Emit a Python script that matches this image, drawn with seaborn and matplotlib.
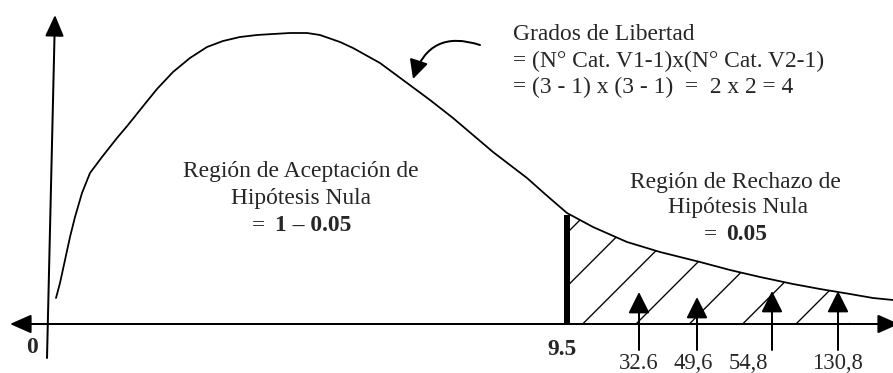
"""
Chi-square diagram: acceptance / rejection regions of the null hypothesis (df = 4)
"""
import numpy as np
import pandas as pd
import matplotlib
matplotlib.use("Agg")
import matplotlib.pyplot as plt
import seaborn as sns

# curve (diagram units, y grows downward)
curve_x = [56, 60, 65, 70, 75, 82, 90, 102, 117, 128, 140, 157, 173, 190, 207, 223,
           240, 257, 273, 290, 307, 320, 340, 353, 380, 403, 430, 453, 473, 493, 510,
           527, 545, 560, 567, 593, 627, 660, 700, 730, 760, 793, 820, 850, 873, 893]
curve_y = [298, 283, 260, 237, 217, 193, 173, 157, 138, 125, 110, 89, 72, 58, 47, 41,
           37, 35, 34, 33, 33, 35, 42, 48, 63, 80, 100, 118, 135, 152, 165,
           178, 194, 207, 213, 227, 242, 252, 262, 270, 277, 284, 289, 294, 298, 300]

crit_label = "9.5"
crit_x = 567
crit_top = 215
hatch_end = 850
base_y = 324

obs_labels = ["32.6", "49,6", "54,8", "130,8"]
obs_arrow_x = [639, 697, 772, 838]
obs_arrow_tip = [292, 297, 291, 291]
obs_label_x = [639, 693, 748, 837]

gl_lines = ["Grados de Libertad",
            "= (N° Cat. V1-1)x(N° Cat. V2-1)",
            "= (3 - 1) x (3 - 1)  =  2 x 2 = 4"]

sns.set_theme(style="white")
plt.rcParams["font.family"] = ["Liberation Serif", "DejaVu Serif"]
plt.rcParams["hatch.linewidth"] = 0.6

DPI = 160
FS = 10.6
fig = plt.figure(figsize=(893 / DPI, 373 / DPI), dpi=DPI)
ax = fig.add_axes([0, 0, 1, 1])

df = pd.DataFrame({"x": curve_x, "y": curve_y})
sns.lineplot(data=df, x="x", y="y", ax=ax, color="black", lw=0.8, sort=False, estimator=None)
ax.lines[-1].set_solid_joinstyle("round")

# rejection region (hatched)
cx = np.array(curve_x)
cy = np.array(curve_y)
m = (cx >= crit_x) & (cx <= hatch_end)
ax.fill_between(cx[m], cy[m], base_y, facecolor="none", edgecolor="black", hatch="/", lw=0)
ax.plot([crit_x, crit_x], [base_y, crit_top], color="black", lw=2.7, solid_capstyle="butt")

# axes drawn as arrows
head = "head_length=0.68,head_width=0.3"
ax.annotate("", xy=(55, 15), xytext=(47, 358), annotation_clip=False,
            arrowprops=dict(arrowstyle="-|>," + head, color="black", lw=0.9, shrinkA=0, shrinkB=0))
ax.annotate("", xy=(899, base_y), xytext=(10, base_y), annotation_clip=False,
            arrowprops=dict(arrowstyle="<|-|>," + head, color="black", lw=0.9, shrinkA=0, shrinkB=0))
ax.text(32, 353, "0", ha="center", va="baseline", fontsize=FS, fontweight="bold")
ax.text(562, 355, crit_label, ha="center", va="baseline", fontsize=FS, fontweight="bold")

# observed chi-square values
for xa, tip, xl, lab in zip(obs_arrow_x, obs_arrow_tip, obs_label_x, obs_labels):
    ax.annotate("", xy=(xa, tip), xytext=(xa, 350),
                arrowprops=dict(arrowstyle="-|>,head_length=0.68,head_width=0.34",
                                color="black", lw=0.9, shrinkA=0, shrinkB=0))
    ax.text(xl, 369, lab, ha="center", va="baseline", fontsize=10.2)

# region labels
ax.text(301, 177, "Región de Aceptación de", ha="center", va="baseline", fontsize=FS)
ax.text(301, 204, "Hipótesis Nula", ha="center", va="baseline", fontsize=FS)
ax.text(265, 231, "=", ha="right", va="baseline", fontsize=FS)
ax.text(275, 231, "1 – 0.05", ha="left", va="baseline", fontsize=FS, fontweight="bold")

ax.text(735, 188, "Región de Rechazo de", ha="center", va="baseline", fontsize=FS)
ax.text(738, 213, "Hipótesis Nula", ha="center", va="baseline", fontsize=FS)
ax.text(717, 240, "=", ha="right", va="baseline", fontsize=FS)
ax.text(726, 240, "0.05", ha="left", va="baseline", fontsize=FS, fontweight="bold")

# degrees of freedom note
for yb, line in zip([40, 67, 93], gl_lines):
    ax.text(513, yb, line, ha="left", va="baseline", fontsize=FS)
ax.annotate("", xy=(413, 79), xytext=(480, 45),
            arrowprops=dict(arrowstyle="-|>,head_length=0.6,head_width=0.3", color="black",
                            lw=0.9, shrinkA=0, shrinkB=0, connectionstyle="arc3,rad=0.5"))

ax.set_xlim(0, 893)
ax.set_ylim(373, 0)
ax.axis("off")

fig.savefig("out.png", dpi=DPI, facecolor="white")
